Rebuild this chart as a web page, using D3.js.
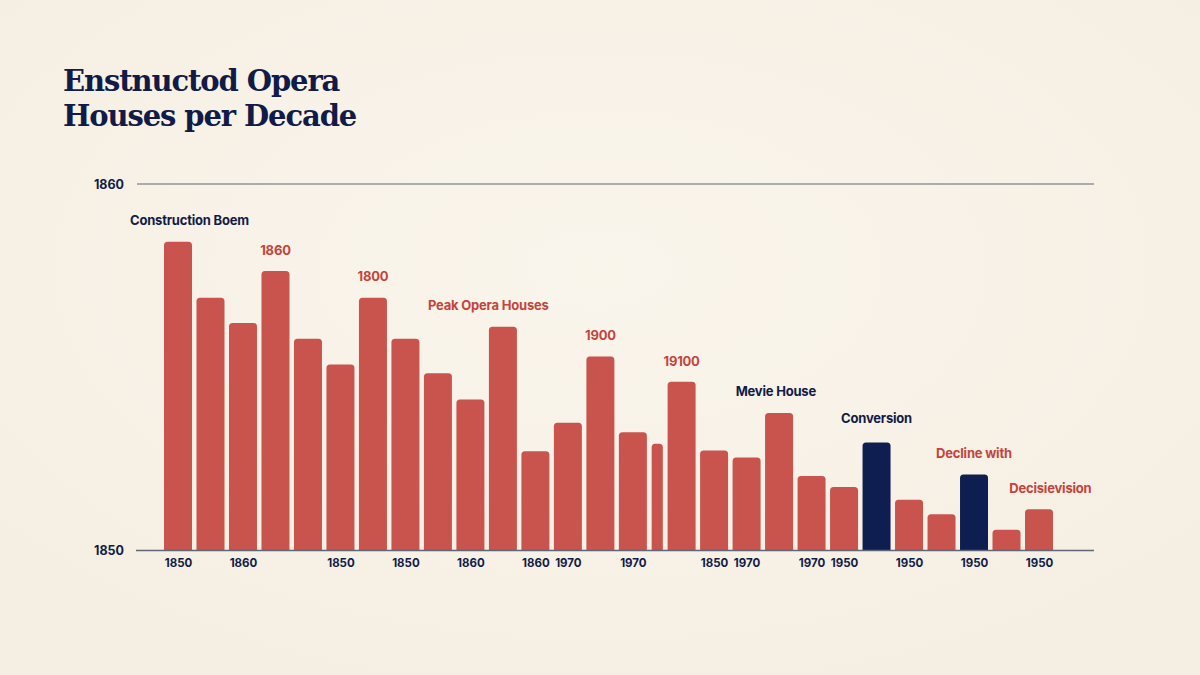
<!DOCTYPE html>
<html>
<head>
<meta charset="utf-8">
<script src="https://cdn.jsdelivr.net/npm/d3@7/dist/d3.min.js"></script>
<style>
  html, body { margin: 0; padding: 0; background: #F8F2E8; }
  svg { display: block; }
</style>
</head>
<body>
<svg id="chart" width="1200" height="675"></svg>
<script>
// ---- data ----
const barIds = d3.range(1, 29).map(i => "b" + i);
const values = [84.2, 68.9, 62.0, 76.2, 57.7, 50.7, 68.9, 57.7, 48.3, 41.1, 61.0, 27.0, 34.8, 52.9,
                32.2, 29.0, 46.0, 27.2, 25.3, 37.4, 20.2, 17.2, 29.4, 13.7, 9.8, 20.6, 5.5, 11.1];
const barKinds = ["red","red","red","red","red","red","red","red","red","red","red","red","red","red",
                  "red","half","red","red","red","red","red","red","navy","red","red","navy","red","red"];
const tickLabels = ["1850","","1860","","","1850","","1850","","1860","","1860","1970","",
                    "1970","","","1850","1970","","1970","1950","","1950","","1950","","1950"];
const yTickValues = [0, 100];
const yTickLabels = ["1850", "1860"];
const titleLines = ["Enstnuctod Opera", "Houses per Decade"];
// annotations: [text, anchor bar index (1-based, fractional = offset), value level, colour key]
const annotations = [
  ["Construction Boem", 0, 89.9, "navy"],
  ["1860", 4, 81.9, "red"],
  ["1800", 7, 74.6, "red"],
  ["Peak Opera Houses", 10.55, 66.7, "red"],
  ["1900", 14, 58.7, "red"],
  ["19100", 17, 51.6, "red"],
  ["Mevie House", 19.9, 43.4, "navy"],
  ["Conversion", 23, 35.8, "navy"],
  ["Decline with", 26, 26.5, "red"],
  ["Decisievision", 28.35, 16.9, "red"]
];

// ---- styles ----
const C = { red: "#C9534D", navy: "#0E1E50", redText: "#C4443B", navyText: "#111B47", axis: "#5F6776", bg: "#F8F2E8" };

const svg = d3.select("#chart");
svg.append("rect").attr("width", 1200).attr("height", 675).attr("fill", C.bg);

const defs = svg.append("defs");
const rg = defs.append("radialGradient").attr("id", "bgGrad").attr("cx", "50%").attr("cy", "40%").attr("r", "70%");
rg.append("stop").attr("offset", "0%").attr("stop-color", "#FAF5EC");
rg.append("stop").attr("offset", "100%").attr("stop-color", "#F5EEE2");
svg.append("rect").attr("width", 1200).attr("height", 675).attr("fill", "url(#bgGrad)");

// title
const title = svg.append("text").attr("x", 63).attr("y", 91)
  .attr("font-family", "'DejaVu Serif', serif").attr("font-weight", 700)
  .attr("font-size", 29).attr("fill", C.navyText).attr("letter-spacing", -1.1);
titleLines.forEach((t, i) => title.append("tspan").attr("x", 63).attr("dy", i === 0 ? 0 : 35).text(t));

// ---- scales ----
const spans = barKinds.map(k => k === "half" ? 0.5 : 1);
const starts = [];
spans.reduce((acc, s, i) => { starts[i] = acc; return acc + s; }, 0);
const centers = starts.map((s, i) => s + spans[i] / 2);
const totalSlots = d3.sum(spans);

const x = d3.scaleLinear().domain([0.5, totalSlots - 0.5]).range([178, 1039]);
const slotPx = x(1) - x(0);
const y = d3.scaleLinear().domain([0, 100]).range([550, 184]);

// gridline top
svg.append("line").attr("x1", 137).attr("x2", 1094).attr("y1", y(100)).attr("y2", y(100))
  .attr("stroke", C.axis).attr("stroke-width", 1.2);

// y labels
svg.selectAll("text.ylab").data(yTickValues).enter().append("text").attr("class", "ylab")
  .attr("x", 124).attr("y", d => y(d) + 4.5).attr("text-anchor", "end")
  .attr("font-family", "Inter, 'Noto Sans', sans-serif").attr("font-weight", 700).attr("font-size", 12.5)
  .attr("fill", C.navyText).text((d, i) => yTickLabels[i]);

function barPath(x0, w, y0, y1, r) {
  r = Math.min(r, w / 2, (y1 - y0));
  return `M${x0},${y1}V${y0 + r}Q${x0},${y0} ${x0 + r},${y0}H${x0 + w - r}Q${x0 + w},${y0} ${x0 + w},${y0 + r}V${y1}Z`;
}
const gap = 4.5;
svg.selectAll("path.bar").data(values).enter().append("path").attr("class", "bar")
  .attr("d", (v, i) => {
    const w = spans[i] * slotPx - gap - (barKinds[i] === "half" ? 0.6 : 0);
    const cx = x(centers[i]);
    return barPath(cx - w / 2, w, y(v), y(0), 3.5);
  })
  .attr("fill", (v, i) => barKinds[i] === "navy" ? C.navy : C.red);

// baseline
svg.append("line").attr("x1", 136).attr("x2", 1094).attr("y1", y(0) + 0.5).attr("y2", y(0) + 0.5)
  .attr("stroke", C.axis).attr("stroke-width", 1.5);

// x tick labels via axis
const xAxis = d3.axisBottom(x).tickValues(centers.filter((c, i) => tickLabels[i] !== ""))
  .tickFormat(c => tickLabels[centers.indexOf(c)]).tickSize(0).tickPadding(9);
const gx = svg.append("g").attr("transform", `translate(0,${y(0)})`).call(xAxis);
gx.select(".domain").remove();
gx.selectAll("text").attr("font-family", "Inter, 'Noto Sans', sans-serif").attr("font-weight", 700)
  .attr("font-size", 11.5).attr("fill", C.navyText);

// annotations
svg.selectAll("text.ann").data(annotations).enter().append("text").attr("class", "ann")
  .attr("x", d => d[1] === 0 ? 130 : x(centers[Math.floor(d[1]) - 1] + (d[1] % 1)))
  .attr("y", d => y(d[2]) + 4.5)
  .attr("text-anchor", d => d[1] === 0 ? "start" : "middle")
  .attr("font-family", "Inter, 'Noto Sans', sans-serif").attr("font-weight", 700).attr("font-size", 13)
  .attr("letter-spacing", -0.2)
  .attr("fill", d => d[3] === "navy" ? C.navyText : C.redText)
  .text(d => d[0]);
</script>
</body>
</html>
